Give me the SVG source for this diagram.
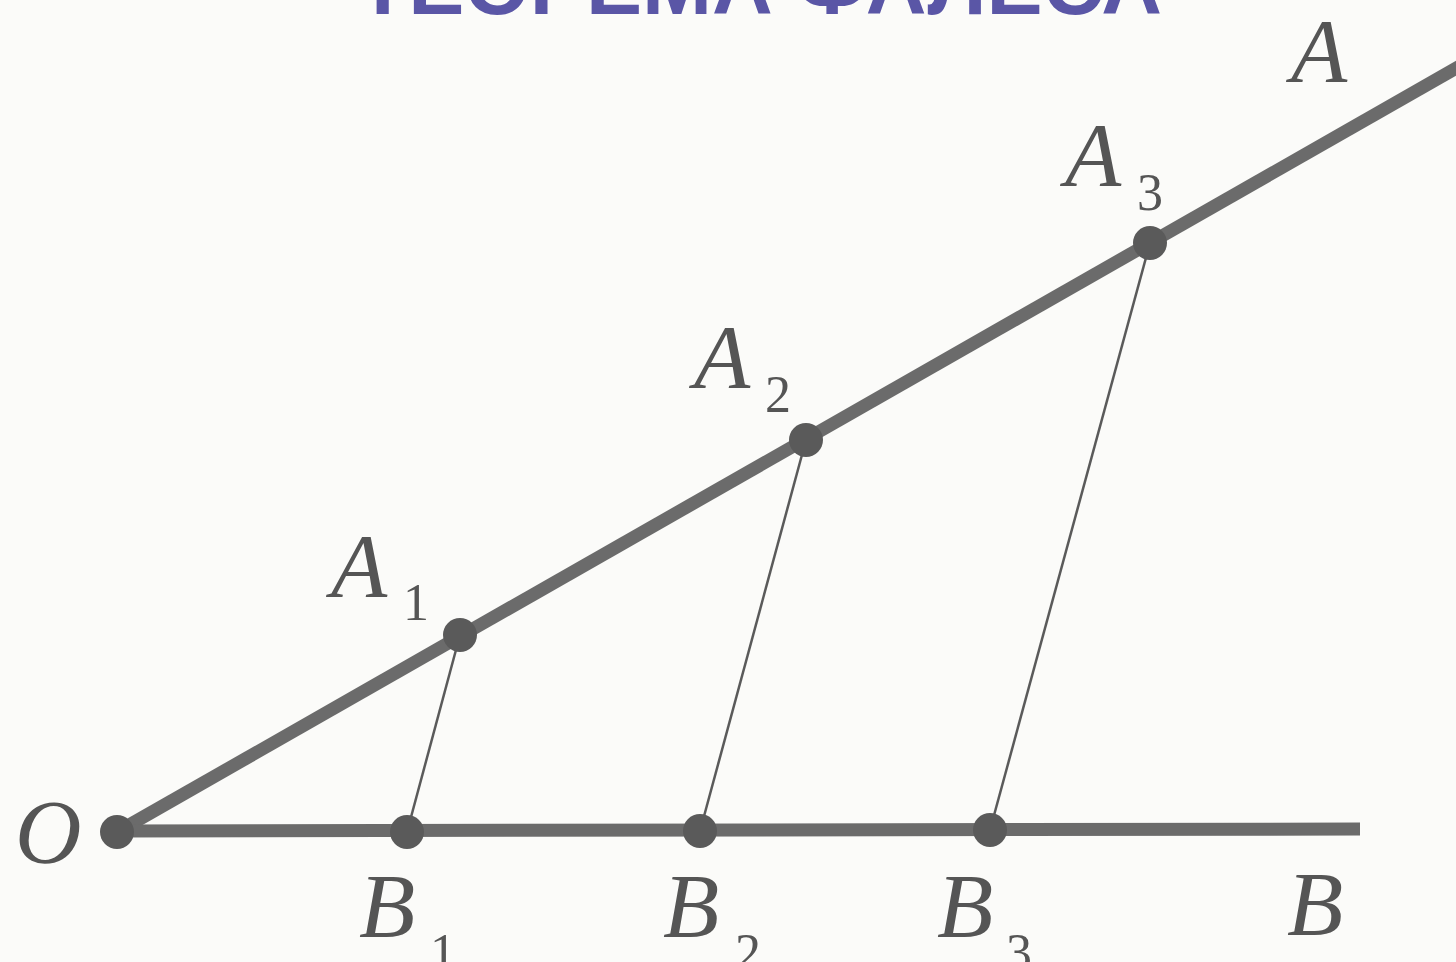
<svg xmlns="http://www.w3.org/2000/svg" width="1456" height="962" viewBox="0 0 1456 962">
  <style>
    .thick { stroke: #6b6b6b; stroke-width: 13; stroke-linecap: butt; fill: none; }
    .thin { stroke: #5a5a5a; stroke-width: 2.5; fill: none; }
    .dot { fill: #5a5a5a; }
    .lbl { font-family: "Liberation Serif", "DejaVu Serif", serif; font-style: italic; font-size: 92px; fill: #555; }
    .sub { font-family: "Liberation Serif", "DejaVu Serif", serif; font-size: 52px; fill: #555; }
    .title { font-family: "Liberation Sans", Arial, sans-serif; font-weight: bold; font-size: 84px; fill: #5a56a6; }
  </style>
  <rect x="0" y="0" width="1456" height="962" fill="#fbfbf9"/>
  <text class="title" x="357" y="14" textLength="805" lengthAdjust="spacingAndGlyphs">ТЕОРЕМА ФАЛЕСА</text>
  <g id="connectors">
    <line class="thick" x1="117" y1="832" x2="1460" y2="66"/>
    <line class="thick" x1="117" y1="831" x2="1360" y2="829"/>
    <line class="thin" x1="460" y1="635" x2="407" y2="832"/>
    <line class="thin" x1="806" y1="440" x2="700" y2="831"/>
    <line class="thin" x1="1150" y1="243" x2="990" y2="830"/>
  </g>
  <g id="O"><circle class="dot" cx="117" cy="832" r="17"/><text class="lbl" x="15" y="863">O</text></g>
  <g id="A1"><circle class="dot" cx="460" cy="635" r="17"/><text class="lbl" x="331" y="597">A</text><text class="sub" x="403" y="620">1</text></g>
  <g id="A2"><circle class="dot" cx="806" cy="440" r="17"/><text class="lbl" x="694" y="388">A</text><text class="sub" x="765" y="412">2</text></g>
  <g id="A3"><circle class="dot" cx="1150" cy="243" r="17"/><text class="lbl" x="1065" y="186">A</text><text class="sub" x="1137" y="210">3</text></g>
  <g id="A"><text class="lbl" x="1291" y="82">A</text></g>
  <g id="B1"><circle class="dot" cx="407" cy="832" r="17"/><text class="lbl" x="359" y="937">B</text><text class="sub" x="430" y="970">1</text></g>
  <g id="B2"><circle class="dot" cx="700" cy="831" r="17"/><text class="lbl" x="663" y="937">B</text><text class="sub" x="735" y="970">2</text></g>
  <g id="B3"><circle class="dot" cx="990" cy="830" r="17"/><text class="lbl" x="937" y="937">B</text><text class="sub" x="1006" y="970">3</text></g>
  <g id="B"><text class="lbl" x="1287" y="935">B</text></g>
</svg>
